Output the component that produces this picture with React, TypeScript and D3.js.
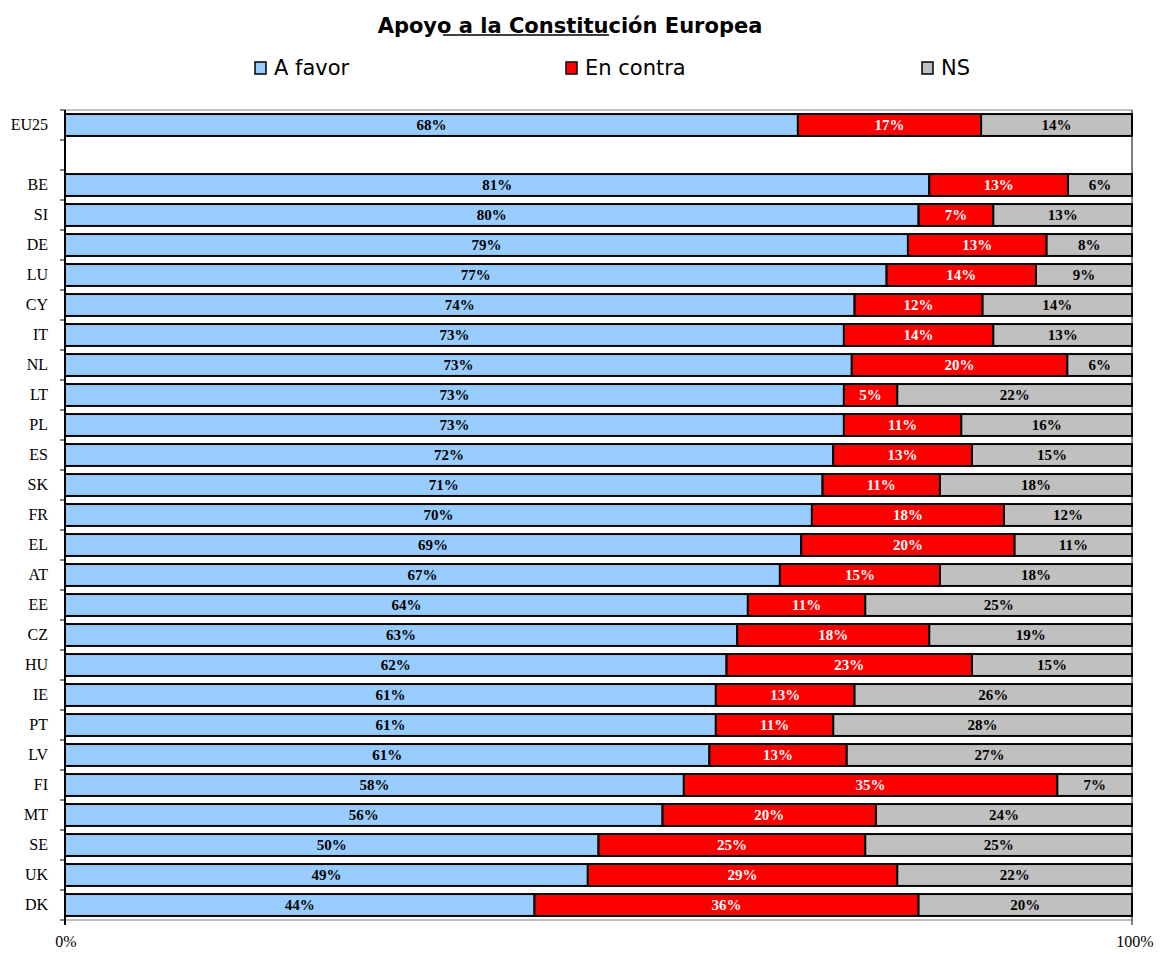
import * as d3 from "d3";
import { useEffect, useRef } from "react";

// categories (empty string = spacer row after EU25)
const countries = ["EU25", "", "BE", "SI", "DE", "LU", "CY", "IT", "NL", "LT", "PL", "ES", "SK", "FR", "EL", "AT", "EE", "CZ", "HU", "IE", "PT", "LV", "FI", "MT", "SE", "UK", "DK"];
const aFavor = [68, null, 81, 80, 79, 77, 74, 73, 73, 73, 73, 72, 71, 70, 69, 67, 64, 63, 62, 61, 61, 61, 58, 56, 50, 49, 44];
const enContra = [17, null, 13, 7, 13, 14, 12, 14, 20, 5, 11, 13, 11, 18, 20, 15, 11, 18, 23, 13, 11, 13, 35, 20, 25, 29, 36];
const noSabe = [14, null, 6, 13, 8, 9, 14, 13, 6, 22, 16, 15, 18, 12, 11, 18, 25, 19, 15, 26, 28, 27, 7, 24, 25, 22, 20];

const seriesKeys = ["A favor", "En contra", "NS"];
const seriesColors = ["#99CCFF", "#FF0000", "#C0C0C0"];
const labelColors = ["#000", "#fff", "#000"];
const xTicks = [0, 1];

export default function App() {
    const svgRef = useRef<SVGSVGElement>(null);

    useEffect(() => {
        const svg = d3.select(svgRef.current);
        svg.selectAll("*").remove();

        const margin = { top: 110, left: 65, right: 29, bottom: 34 };
        const W = 1161, H = 954;
        const x0 = margin.left, x1 = W - margin.right;
        const y0 = margin.top, y1 = H - margin.bottom;
        const serif = "'Liberation Serif', 'Times New Roman', serif";
        const sans = "Verdana, 'DejaVu Sans', sans-serif";

        const rows = countries.map((c, i) => ({
            country: c,
            "A favor": aFavor[i] ?? 0,
            "En contra": enContra[i] ?? 0,
            NS: noSabe[i] ?? 0,
            empty: aFavor[i] == null,
        }));

        const X = d3.scaleLinear().domain([0, 1]).range([x0, x1]);
        const Y = d3.scaleBand<string>()
            .domain(countries.map((c, i) => c || `_${i}`))
            .range([y0, y1])
            .paddingInner(0.27)
            .paddingOuter(0.135);

        const stacked = d3.stack<any>().keys(seriesKeys).offset(d3.stackOffsetExpand)(rows);

        //   ---- plot frame ----
        svg.append("line").attr("x1", x0).attr("x2", x1).attr("y1", y0).attr("y2", y0)
            .attr("stroke", "#808080").attr("stroke-width", 1);
        svg.append("line").attr("x1", x0).attr("x2", x1).attr("y1", y1).attr("y2", y1)
            .attr("stroke", "#808080").attr("stroke-width", 1);
        svg.append("line").attr("x1", x1).attr("x2", x1).attr("y1", y0).attr("y2", y1 + 5)
            .attr("stroke", "#000").attr("stroke-width", 1);

        //   ---- bars ----
        stacked.forEach((layer, si) => {
            const g = svg.append("g");
            const segs = layer.map((d, i) => ({ d, row: rows[i], key: Y.domain()[i] })).filter(s => !s.row.empty);
            g.selectAll("rect")
                .data(segs)
                .join("rect")
                .attr("x", s => X(s.d[0]))
                .attr("y", s => Y(s.key)!)
                .attr("width", s => X(s.d[1]) - X(s.d[0]))
                .attr("height", Y.bandwidth())
                .attr("fill", seriesColors[si])
                .attr("stroke", "#000")
                .attr("stroke-width", 2);
            g.selectAll("text")
                .data(segs)
                .join("text")
                .attr("x", s => (X(s.d[0]) + X(s.d[1])) / 2)
                .attr("y", s => Y(s.key)! + Y.bandwidth() / 2 + 5)
                .attr("text-anchor", "middle")
                .attr("font-family", serif)
                .attr("font-weight", "bold")
                .attr("font-size", 15)
                .attr("fill", labelColors[si])
                .text(s => `${(s.row as any)[seriesKeys[si]]}%`);
        });

        //   ---- y axis ----
        svg.append("line").attr("x1", x0).attr("x2", x0).attr("y1", y0).attr("y2", y1 + 5)
            .attr("stroke", "#000").attr("stroke-width", 2);
        const step = Y.step();
        d3.range(countries.length + 1).forEach(i => {
            const yy = y0 + i * step;
            svg.append("line").attr("x1", x0 - 5).attr("x2", x0).attr("y1", yy).attr("y2", yy)
                .attr("stroke", "#000").attr("stroke-width", 1);
        });
        svg.append("g").selectAll("text")
            .data(countries.map((c, i) => ({ c, key: Y.domain()[i] })))
            .join("text")
            .attr("x", 48)
            .attr("y", d => Y(d.key)! + Y.bandwidth() / 2 + 5)
            .attr("text-anchor", "end")
            .attr("font-family", serif)
            .attr("font-size", 16)
            .text(d => d.c);

        //   ---- x axis labels ----
        xTicks.forEach(v => {
            svg.append("text")
                .attr("x", X(v) + (v === 1 ? 3 : 1))
                .attr("y", 947)
                .attr("text-anchor", "middle")
                .attr("font-family", serif)
                .attr("font-size", 16)
                .text(`${v * 100}%`);
        });

        //   ---- title ----
        svg.append("text")
            .attr("x", 570).attr("y", 33)
            .attr("text-anchor", "middle")
            .attr("font-family", sans)
            .attr("font-weight", "bold")
            .attr("font-size", 21)
            .text("Apoyo a la Constitución Europea");
        svg.append("line").attr("x1", 443).attr("x2", 609).attr("y1", 35).attr("y2", 35)
            .attr("stroke", "#000").attr("stroke-width", 1.5);

        //   ---- legend ----
        const legendX = [255, 566, 922];
        seriesKeys.forEach((k, i) => {
            svg.append("rect")
                .attr("x", legendX[i]).attr("y", 62)
                .attr("width", 11).attr("height", 12)
                .attr("fill", seriesColors[i])
                .attr("stroke", "#000").attr("stroke-width", 1.5);
            svg.append("text")
                .attr("x", legendX[i] + 19).attr("y", 75)
                .attr("font-family", sans)
                .attr("font-size", 21)
                .text(k);
        });
    }, []);

    return (
        <svg ref={svgRef} width={1161} height={954}
            style={{ position: "absolute", left: 0, top: 0, background: "#fff" }} />
    );
}
